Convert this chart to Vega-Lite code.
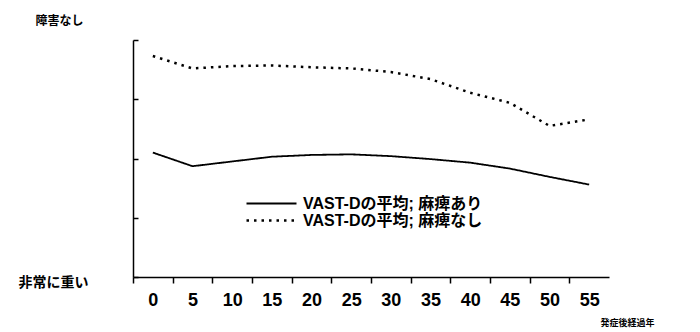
{
  "$schema": "https://vega.github.io/schema/vega-lite/v6.json",
  "width": 476,
  "height": 237,
  "autosize": {"type": "none"},
  "padding": {"left": 133, "top": 40, "right": 91, "bottom": 55},
  "background": "white",
  "config": {
    "view": {"stroke": null},
    "font": "Liberation Sans, Noto Sans CJK JP",
    "axis": {"grid": false, "domainColor": "black", "tickColor": "black", "labelColor": "black", "titleColor": "black", "domainWidth": 1.5, "tickWidth": 1.5}
  },
  "data": {
    "values": [
      {"year": 0, "series": "VAST-Dの平均; 麻痺あり", "value": 2.10},
      {"year": 5, "series": "VAST-Dの平均; 麻痺あり", "value": 1.87},
      {"year": 10, "series": "VAST-Dの平均; 麻痺あり", "value": 1.95},
      {"year": 15, "series": "VAST-Dの平均; 麻痺あり", "value": 2.03},
      {"year": 20, "series": "VAST-Dの平均; 麻痺あり", "value": 2.06},
      {"year": 25, "series": "VAST-Dの平均; 麻痺あり", "value": 2.07},
      {"year": 30, "series": "VAST-Dの平均; 麻痺あり", "value": 2.04},
      {"year": 35, "series": "VAST-Dの平均; 麻痺あり", "value": 1.99},
      {"year": 40, "series": "VAST-Dの平均; 麻痺あり", "value": 1.93},
      {"year": 45, "series": "VAST-Dの平均; 麻痺あり", "value": 1.83},
      {"year": 50, "series": "VAST-Dの平均; 麻痺あり", "value": 1.69},
      {"year": 55, "series": "VAST-Dの平均; 麻痺あり", "value": 1.56},
      {"year": 0, "series": "VAST-Dの平均; 麻痺なし", "value": 3.73},
      {"year": 5, "series": "VAST-Dの平均; 麻痺なし", "value": 3.52},
      {"year": 10, "series": "VAST-Dの平均; 麻痺なし", "value": 3.56},
      {"year": 15, "series": "VAST-Dの平均; 麻痺なし", "value": 3.57},
      {"year": 20, "series": "VAST-Dの平均; 麻痺なし", "value": 3.54},
      {"year": 25, "series": "VAST-Dの平均; 麻痺なし", "value": 3.52},
      {"year": 30, "series": "VAST-Dの平均; 麻痺なし", "value": 3.46},
      {"year": 35, "series": "VAST-Dの平均; 麻痺なし", "value": 3.34},
      {"year": 40, "series": "VAST-Dの平均; 麻痺なし", "value": 3.11},
      {"year": 45, "series": "VAST-Dの平均; 麻痺なし", "value": 2.94},
      {"year": 50, "series": "VAST-Dの平均; 麻痺なし", "value": 2.55},
      {"year": 55, "series": "VAST-Dの平均; 麻痺なし", "value": 2.66}
    ]
  },
  "mark": {"type": "line", "color": "black"},
  "encoding": {
    "x": {
      "field": "year",
      "type": "quantitative",
      "scale": {"domain": [-2.5, 57.5], "nice": false, "zero": false},
      "axis": {
        "values": [0, 5, 10, 15, 20, 25, 30, 35, 40, 45, 50, 55, 60],
        "labelExpr": "datum.value > 57 ? '' : datum.label",
        "domain": true,
        "tickSize": 6,
        "tickOffset": -19.8,
        "labelOffset": 19.8,
        "labelPadding": 8,
        "labelFlush": false,
        "labelOverlap": false,
        "labelFontSize": 18,
        "labelFontWeight": "bold",
        "labelFont": "Liberation Sans",
        "title": "発症後経過年",
        "titleFont": "Noto Sans CJK JP",
        "titleFontSize": 9,
        "titleFontWeight": "bold",
        "titleX": 494,
        "titleY": 45,
        "titleAlign": "center",
        "titleBaseline": "middle"
      }
    },
    "y": {
      "field": "value",
      "type": "quantitative",
      "scale": {"domain": [0, 4], "nice": false, "zero": false},
      "axis": {
        "values": [0, 1, 2, 3, 4],
        "tickSize": -5,
        "labelPadding": 50,
        "labelOffset": 5,
        "labelExpr": "datum.value == 0 ? '非常に重い' : ''",
        "labelFont": "Noto Sans CJK JP",
        "labelFontSize": 14,
        "labelFontWeight": "bold",
        "title": "障害なし",
        "titleFont": "Noto Sans CJK JP",
        "titleFontSize": 12,
        "titleFontWeight": "bold",
        "titleAngle": 0,
        "titleX": -98,
        "titleY": -20,
        "titleAlign": "left",
        "titleBaseline": "middle"
      }
    },
    "strokeWidth": {
      "field": "series",
      "type": "nominal",
      "scale": {
        "domain": ["VAST-Dの平均; 麻痺あり", "VAST-Dの平均; 麻痺なし"],
        "range": [1.8, 2.5]
      },
      "legend": null
    },
    "strokeDash": {
      "field": "series",
      "type": "nominal",
      "scale": {
        "domain": ["VAST-Dの平均; 麻痺あり", "VAST-Dの平均; 麻痺なし"],
        "range": [[1, 0], [2.5, 5]]
      },
      "legend": {
        "title": null,
        "orient": "none",
        "legendX": 112,
        "legendY": 155,
        "padding": 0,
        "symbolType": "stroke",
        "symbolSize": 2500,
        "symbolStrokeWidth": 2.2,
        "symbolStrokeColor": "black",
        "symbolOffset": 0,
        "labelOffset": 5,
        "clipHeight": 17,
        "rowPadding": 0,
        "labelFontSize": 16,
        "labelFontWeight": "bold",
        "labelColor": "black",
        "labelLimit": 400
      }
    }
  }
}
